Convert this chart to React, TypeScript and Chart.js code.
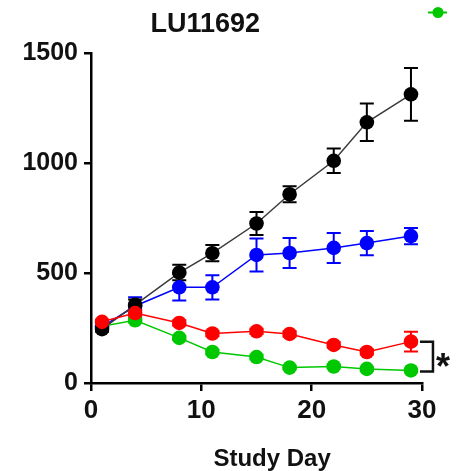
import React, { useEffect, useRef } from 'react';
import { Chart, registerables } from 'chart.js';

Chart.register(...registerables);

const days = [1, 4, 8, 11, 15, 18, 22, 25, 29];
const blackMean = [245, 355, 502, 590, 725, 858, 1010, 1185, 1312];
const blackSem = [12, 25, 35, 37, 52, 36, 56, 85, 120];
const blueMean = [255, 350, 435, 435, 582, 591, 614, 636, 668];
const blueSem = [12, 40, 60, 55, 75, 68, 68, 55, 37];
const redMean = [278, 318, 273, 225, 235, 223, 173, 141, 188];
const redSem = [10, 15, 12, 12, 12, 12, 12, 12, 45];
const greenMean = [258, 285, 205, 141, 118, 70, 75, 64, 57];
const greenSem = [8, 10, 10, 10, 10, 8, 8, 8, 8];
const yTicks = [0, 500, 1000, 1500];
const xTicks = [0, 10, 20, 30];
const titleText = 'LU11692';
const xTitleText = 'Study Day';
const sigMark = '*';

const BLACK = '#000000';
const BLUE = '#0000ff';
const RED = '#ff0000';
const GREEN = '#00c800';
const FONT = '"Liberation Sans", Arial, sans-serif';

const series = [
  { key: 'black', mean: blackMean, sem: blackSem, color: BLACK, line: '#3a3a3a', order: 1 },
  { key: 'blue', mean: blueMean, sem: blueSem, color: BLUE, line: BLUE, order: 2 },
  { key: 'red', mean: redMean, sem: redSem, color: RED, line: RED, order: 0 },
  { key: 'green', mean: greenMean, sem: greenSem, color: GREEN, line: GREEN, order: 3 },
];

const errorBarPlugin = {
  id: 'errorBars',
  beforeDatasetsDraw(chart: any) {
    const { ctx, scales } = chart;
    const xs = scales.x;
    const ys = scales.y;
    ctx.save();
    const sorted = [...series].sort((a, b) => b.order - a.order);
    sorted.forEach((s) => {
      ctx.strokeStyle = s.color;
      ctx.lineWidth = 2;
      s.mean.forEach((m, i) => {
        const x = xs.getPixelForValue(days[i]);
        const yt = ys.getPixelForValue(m + s.sem[i]);
        const yb = ys.getPixelForValue(m - s.sem[i]);
        const cap = 7;
        ctx.beginPath();
        ctx.moveTo(x, yt);
        ctx.lineTo(x, yb);
        ctx.moveTo(x - cap, yt);
        ctx.lineTo(x + cap, yt);
        ctx.moveTo(x - cap, yb);
        ctx.lineTo(x + cap, yb);
        ctx.stroke();
      });
    });
    ctx.restore();
  },
};

const decorPlugin = {
  id: 'decor',
  afterDraw(chart: any) {
    const { ctx, chartArea, scales, width } = chart;
    const xs = scales.x;
    const ys = scales.y;
    ctx.save();
    ctx.fillStyle = '#111';
    ctx.textAlign = 'center';
    ctx.textBaseline = 'middle';
    // title
    ctx.font = `bold 27px ${FONT}`;
    const tx = chartArea.left + (chartArea.right - chartArea.left) * 0.345;
    ctx.fillText(titleText, tx, 25);
    // x axis title
    ctx.font = `bold 24px ${FONT}`;
    const ax = chartArea.left + (chartArea.right - chartArea.left) * 0.547;
    ctx.fillText(xTitleText, ax, 459);

    // significance bracket between last red and last green
    const last = days.length - 1;
    const bx = xs.getPixelForValue(days[last]);
    const yr = ys.getPixelForValue(redMean[last]);
    const yg = ys.getPixelForValue(greenMean[last]);
    ctx.strokeStyle = '#111';
    ctx.lineWidth = 2.5;
    ctx.beginPath();
    ctx.moveTo(bx + 9, yr);
    ctx.lineTo(bx + 22, yr);
    ctx.lineTo(bx + 22, yg + 1);
    ctx.lineTo(bx + 9, yg + 1);
    ctx.stroke();
    ctx.font = `bold 36px ${FONT}`;
    ctx.textBaseline = 'alphabetic';
    ctx.fillText(sigMark, bx + 32, (yr + yg) / 2 + 23);

    // partial legend (green item) at top right
    const lx = width - 18;
    const ly = 12.5;
    ctx.strokeStyle = GREEN;
    ctx.lineWidth = 2;
    ctx.beginPath();
    ctx.moveTo(lx - 10, ly);
    ctx.lineTo(lx + 9, ly);
    ctx.stroke();
    ctx.fillStyle = GREEN;
    ctx.beginPath();
    ctx.arc(lx, ly, 5.5, 0, Math.PI * 2);
    ctx.fill();
    ctx.restore();
  },
};

export default function App() {
  const ref = useRef<HTMLCanvasElement | null>(null);

  useEffect(() => {
    if (!ref.current) return;
    const datasets = series.map((s) => ({
      label: s.key,
      data: s.mean.map((m, i) => ({ x: days[i], y: m })),
      borderColor: s.line,
      backgroundColor: s.color,
      pointBackgroundColor: s.color,
      pointBorderColor: s.color,
      pointRadius: 7.3,
      pointBorderWidth: 0,
      borderWidth: 1.5,
      order: s.order,
      tension: 0,
      fill: false,
    }));
    const tickFont = { family: FONT, size: 25, weight: 'bold' as const };
    const chart = new Chart(ref.current, {
      type: 'line',
      data: { datasets },
      options: {
        animation: false,
        responsive: false,
        events: [],
        layout: { padding: { top: 53, right: 34, left: 0, bottom: 0 } },
        plugins: {
          legend: { display: false },
          title: { display: false },
          tooltip: { enabled: false },
        },
        scales: {
          x: {
            type: 'linear',
            min: 0,
            max: 30,
            afterBuildTicks: (scale: any) => {
              scale.ticks = xTicks.map((v) => ({ value: v }));
            },
            afterFit: (scale: any) => {
              scale.height = 88;
            },
            grid: {
              drawOnChartArea: false,
              drawTicks: true,
              tickLength: 8,
              color: '#000',
              lineWidth: 2.5,
            },
            border: { display: true, color: '#000', width: 2.5 },
            ticks: {
              font: { family: FONT, size: 26, weight: 'bold' as const },
              color: '#111',
              padding: 4,
              maxRotation: 0,
              callback: (v: any) => String(v),
            },
          },
          y: {
            type: 'linear',
            min: 0,
            max: 1500,
            afterBuildTicks: (scale: any) => {
              scale.ticks = yTicks.map((v) => ({ value: v }));
            },
            afterFit: (scale: any) => {
              scale.width = 91;
            },
            grid: {
              drawOnChartArea: false,
              drawTicks: true,
              tickLength: 7,
              color: '#000',
              lineWidth: 2.5,
            },
            border: { display: true, color: '#000', width: 2.5 },
            ticks: { font: tickFont, color: '#111', padding: 6, callback: (v: any) => String(v) },
          },
        },
      },
      plugins: [errorBarPlugin, decorPlugin],
    });
    return () => chart.destroy();
  }, []);

  return (
    <div style={{ position: 'absolute', left: 0, top: 0, width: 456, height: 471, background: '#fff' }}>
      <canvas ref={ref} width={456} height={471} style={{ display: 'block' }} />
    </div>
  );
}
